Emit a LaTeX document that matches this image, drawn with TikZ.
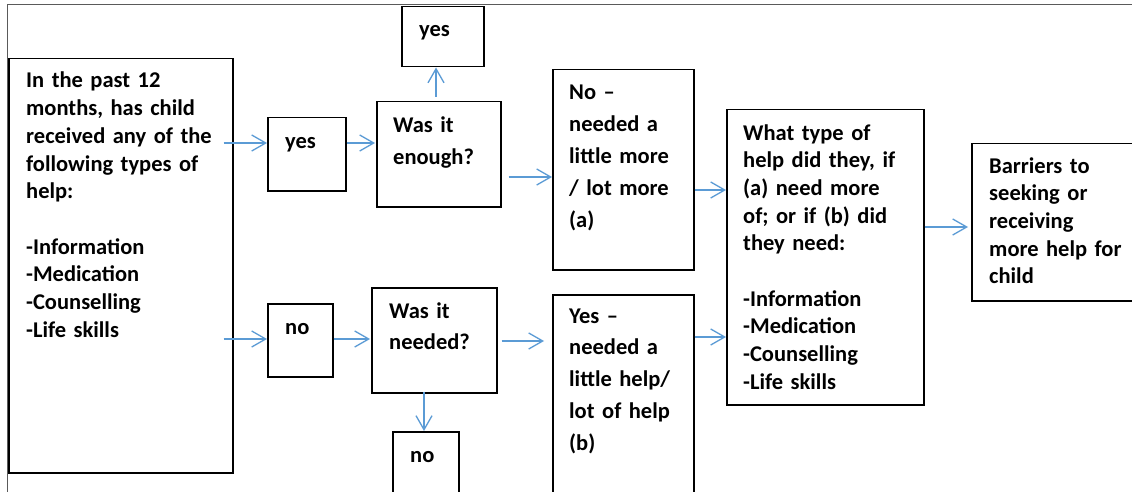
\documentclass[tikz,border=0pt]{standalone}
\usepackage{fontspec}
\setmainfont{Carlito}
\usetikzlibrary{arrows.meta}
\definecolor{arrblue}{HTML}{5B9BD5}
\definecolor{framegray}{HTML}{5A5A5A}
\tikzset{
  box/.style={draw=black, line width=1.5pt, rectangle, inner sep=0pt, anchor=north west},
  txt/.style={font=\fontsize{22.5}{27.7}\selectfont\bfseries, align=left, inner sep=0pt, anchor=base west, text width=#1},
  txt/.default=190pt,
  txtw/.style={font=\fontsize{22.5}{31.8}\selectfont\bfseries, align=left, inner sep=0pt, anchor=base west, text width=#1},
  txtw/.default=140pt,
  arr/.style={draw=arrblue, line width=1.3pt, -{Straight Barb[length=14pt,width=16pt,line width=1.3pt]}},
  frame/.style={draw=framegray, line width=1pt}
}
\begin{document}
\begin{tikzpicture}[x=1pt,y=-1pt]
\clip (0,0) rectangle (1132,492);
\fill[white] (0,0) rectangle (1132,492);
% outer frame
\draw[frame] (7,492) -- (7,5) -- (1140,5);
% boxes
\node[box, minimum width=224pt, minimum height=414pt] (main) at (8,58) {};
\node[box, minimum width=78pt, minimum height=73pt] (yes1) at (267,117) {};
\node[box, minimum width=65pt, minimum height=73pt] (no1) at (267,303) {};
\node[box, minimum width=82pt, minimum height=60pt] (yestop) at (401,6) {};
\node[box, minimum width=124pt, minimum height=105pt] (enough) at (376,101) {};
\node[box, minimum width=125pt, minimum height=105pt] (needed) at (371,287) {};
\node[box, minimum width=66pt, minimum height=80pt] (nobot) at (392,431) {};
\node[box, minimum width=141pt, minimum height=200pt] (nomore) at (552,69) {};
\node[box, minimum width=141pt, minimum height=220pt] (yeshelp) at (552,294) {};
\node[box, minimum width=197pt, minimum height=295pt] (what) at (726,109) {};
\node[box, minimum width=180pt, minimum height=157pt] (barriers) at (971,143) {};
% texts
\node[txt] (maint) at (26,88) {In the past 12\\ months, has child\\ received any of the\\ following types of\\ help:\\[27.7pt] -Information\\ -Medication\\ -Counselling\\ -Life skills};
\node[txt=60pt] (yes1t) at (285,148) {yes};
\node[txt=60pt] (no1t) at (285,334) {no};
\node[txt=60pt] (yestopt) at (419,37) {yes};
\node[txtw=100pt] (enought) at (393,133) {Was it\\ enough?};
\node[txtw=100pt] (neededt) at (389,318) {Was it\\ needed?};
\node[txt=50pt] (nobott) at (410,462) {no};
\node[txtw] (nomoret) at (569,100) {No –\\ needed a\\ little more\\ / lot more\\ (a)};
\node[txtw] (yeshelpt) at (569,323) {Yes –\\ needed a\\ little help/\\ lot of help\\ (b)};
\node[txt=180pt] (whatt) at (743,140) {What type of\\ help did they, if\\ (a) need more\\ of; or if (b) did\\ they need:\\[27.7pt] -Information\\ -Medication\\ -Counselling\\ -Life skills};
\node[txt=150pt] (barrierst) at (989,173) {Barriers to\\ seeking or\\ receiving\\ more help for\\ child};
% connectors
\draw[arr, shorten <=-10pt] (main.east |- 0,143) -- (yes1.west |- 0,143);
\draw[arr, shorten >=1pt] (yes1.east |- 0,143) -- (enough.west |- 0,143);
\draw[arr, shorten <=-10pt] (main.east |- 0,339) -- (no1.west |- 0,339);
\draw[arr, shorten >=1pt] (no1.east |- 0,339) -- (needed.west |- 0,339);
\draw[arr, shorten <=4pt] (enough.north -| 436,0) -- (yestop.south -| 436,0);
\draw[arr, shorten <=7pt] (enough.east |- 0,177) -- (nomore.west |- 0,177);
\draw[arr, shorten <=-2pt] (needed.south -| 424,0) -- (nobot.north -| 424,0);
\draw[arr, shorten <=4pt, shorten >=8pt] (needed.east |- 0,341) -- (yeshelp.west |- 0,341);
\draw[arr] (nomore.east |- 0,190) -- (what.west |- 0,190);
\draw[arr] (yeshelp.east |- 0,337) -- (what.west |- 0,337);
\draw[arr, shorten >=3pt] (what.east |- 0,227) -- (barriers.west |- 0,227);
\end{tikzpicture}
\end{document}
